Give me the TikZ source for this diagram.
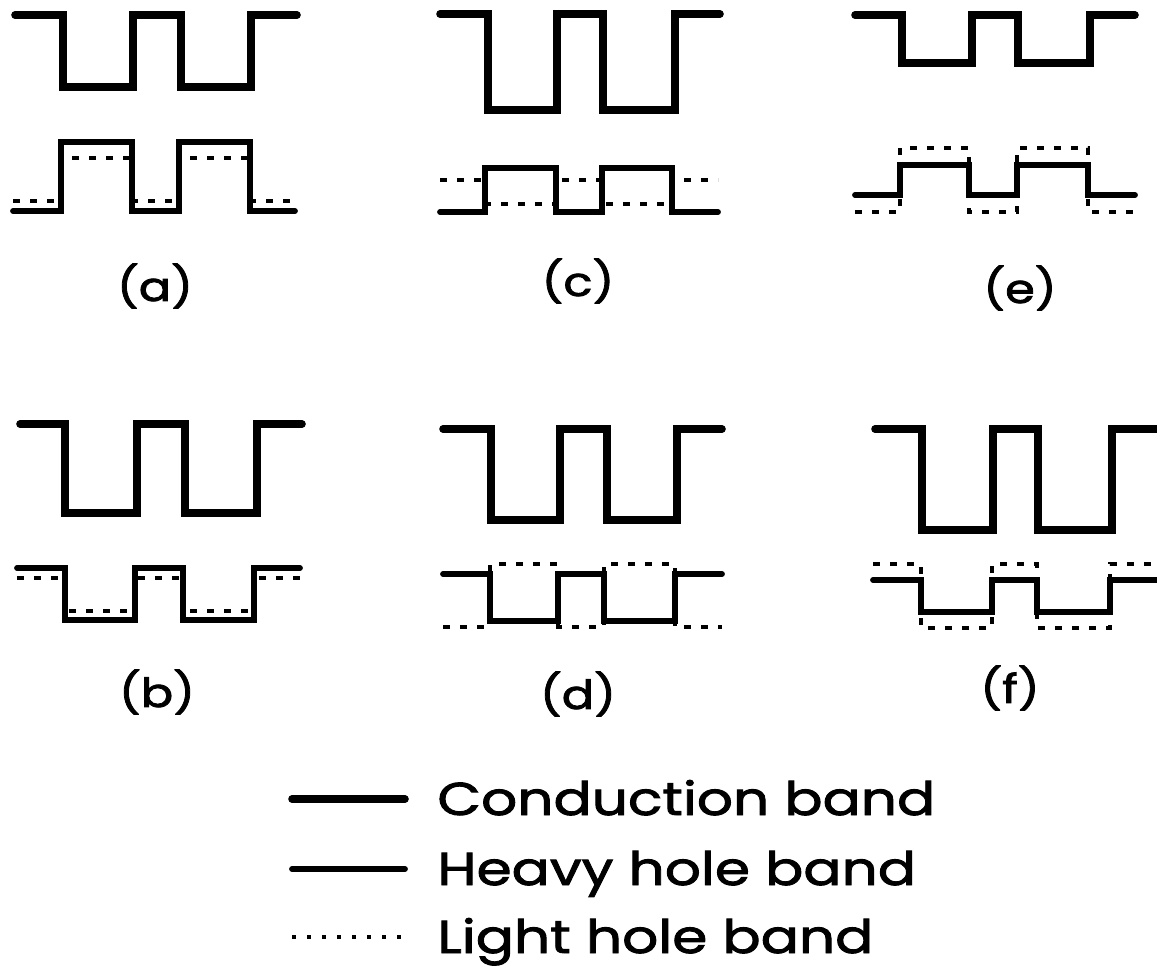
\documentclass[tikz,border=0pt]{standalone}
\usepackage{fontspec}
\setmainfont{Poppins}
\newfontfamily\legfont{Poppins}[FakeStretch=1.23, FakeBold=2]
\newfontfamily\lblfont{Poppins}[FakeStretch=1.2, FakeBold=2]
\newcommand{\sqwave}[9]{\draw[#1] (#2,#8) -- (#3,#8) -- (#3,#9) -- (#4,#9) -- (#4,#8) -- (#5,#8) -- (#5,#9) -- (#6,#9) -- (#6,#8) -- (#7,#8);}
\tikzset{
  cband/.style={line width=3.8pt, line join=miter, line cap=round},
  hhband/.style={line width=2.9pt, line join=miter, line cap=round},
  lhband/.style={line width=1.8pt, dash pattern=on 3.5pt off 5pt},
  legdash/.style={line width=1.6pt, dash pattern=on 2pt off 5.5pt},
  lbl/.style={font=\lblfont\fontsize{20}{24}\selectfont, inner sep=0pt},
  legtxt/.style={font=\legfont\fontsize{23}{26}\selectfont, inner sep=0pt, anchor=base west}
}
\begin{document}
\begin{tikzpicture}[x=0.5pt,y=-0.5pt]
\useasboundingbox (0,0) rectangle (1157,974);
% (a)
\sqwave{lhband}{13}{61}{132}{179}{250}{295}{201}{158}
\sqwave{cband}{15}{63}{133}{181}{251}{297}{15}{87}
\sqwave{hhband}{13}{61}{132}{179}{250}{295}{211}{142}
% (c)
\sqwave{lhband}{440}{485}{556}{602}{672}{718}{180}{204}
\sqwave{cband}{440}{488}{557}{603}{675}{720}{14}{110}
\sqwave{hhband}{440}{485}{556}{602}{672}{718}{212}{168}
% (e)
\sqwave{lhband}{855}{900}{969}{1017}{1088}{1135}{212}{148}
\sqwave{cband}{855}{902}{972}{1018}{1090}{1135}{15}{63}
\sqwave{hhband}{855}{900}{969}{1017}{1088}{1135}{195}{165}
% (b)
\sqwave{lhband}{17}{65}{135}{183}{254}{300}{578}{611}
\sqwave{cband}{20}{65}{137}{185}{257}{302}{424}{513}
\sqwave{hhband}{17}{65}{135}{183}{254}{300}{568}{620}
% (d)
\sqwave{lhband}{443}{490}{558}{604}{675}{722}{627}{564}
\sqwave{cband}{443}{491}{560}{607}{677}{722}{429}{520}
\sqwave{hhband}{443}{490}{558}{604}{675}{722}{574}{621}
% (f)
\sqwave{lhband}{873}{921}{992}{1037}{1110}{1157}{564}{628}
\sqwave{cband}{875}{922}{993}{1038}{1112}{1157}{429}{530}
\sqwave{hhband}{873}{921}{992}{1037}{1110}{1157}{580}{612}
% labels
\node[lbl] (la) at (155,286) {(a)};
\node[lbl] (lc) at (578,281) {(c)};
\node[lbl] (le) at (1020,288) {(e)};
\node[lbl] (lb) at (157,692) {(b)};
\node[lbl] (ld) at (578,694) {(d)};
\node[lbl] (lf) at (1010,688) {(f)};
% legend
\coordinate (c1a) at (292,799); \coordinate (c1b) at (405,799);
\coordinate (c2a) at (292,869); \coordinate (c2b) at (405,869);
\coordinate (c3a) at (292,937); \coordinate (c3b) at (405,937);
\draw[cband] (c1a) -- (c1b);
\draw[hhband] (c2a) -- (c2b);
\draw[legdash] (c3a) -- (c3b);
\node[legtxt] (t1) at (437,815) {Conduction band};
\node[legtxt] (t2) at (437,885) {Heavy hole band};
\node[legtxt] (t3) at (437,953) {Light hole band};
\end{tikzpicture}
\end{document}
